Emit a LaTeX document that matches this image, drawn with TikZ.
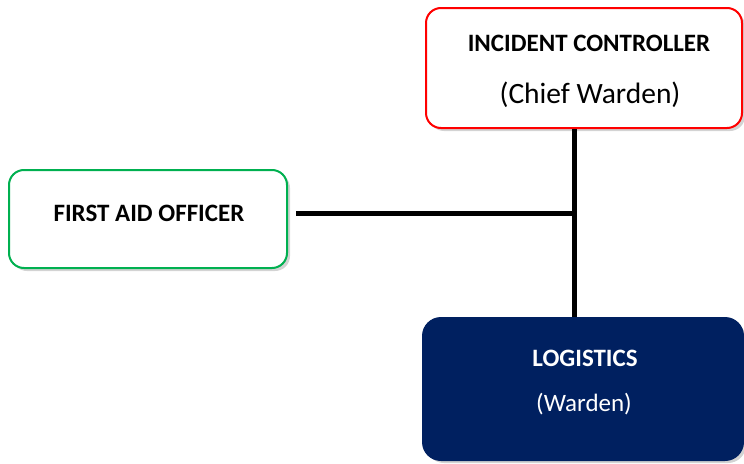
\documentclass[tikz,border=0pt]{standalone}
\usepackage{fontspec}
\setmainfont{Carlito}
\usetikzlibrary{shadows}

\definecolor{navy}{RGB}{0,32,96}
\definecolor{okgreen}{RGB}{0,176,80}

\begin{document}
\begin{tikzpicture}[x=1pt,y=-1pt,
        box node/.style={rectangle,rounded corners=15pt,line width=2pt,fill=white,
            drop shadow={shadow xshift=3pt,shadow yshift=-3pt,opacity=0.35}},
        head/.style={inner sep=0pt,anchor=base,font=\fontsize{25}{30}\selectfont\bfseries},
        sub/.style={inner sep=0pt,anchor=base,font=\fontsize{29.5}{34}\selectfont},
        link/.style={line width=5pt}]

        \useasboundingbox (0,0) rectangle (744,463);

        % boxes
        \node[box node,draw=red,minimum width=316pt,minimum height=120pt] (1) at (584,68) {};
        \node[box node,draw=okgreen,minimum width=278pt,minimum height=98pt] (2) at (148,219) {};
        \node[box node,draw=navy,fill=navy,rounded corners=18pt,minimum width=320pt,minimum height=142pt] (3) at (583,389) {};

        % texts
        \node[head] (1a) at (589,51) {INCIDENT CONTROLLER};
        \node[sub] (1b) at (590,103) {(Chief Warden)};
        \node[head] (2a) at (149,221) {FIRST AID OFFICER};
        \node[head,text=white] (3a) at (585,366) {LOGISTICS};
        \node[head,text=white,font=\fontsize{25}{30}\selectfont] (3b) at (584,411) {(Warden)};

        \coordinate (j) at (574,213);
        \coordinate (a) at (296,213);

        \path[link]
        (a) edge (j)
        (1.south -| j) edge (3.north -| j);
      \end{tikzpicture}
\end{document}
